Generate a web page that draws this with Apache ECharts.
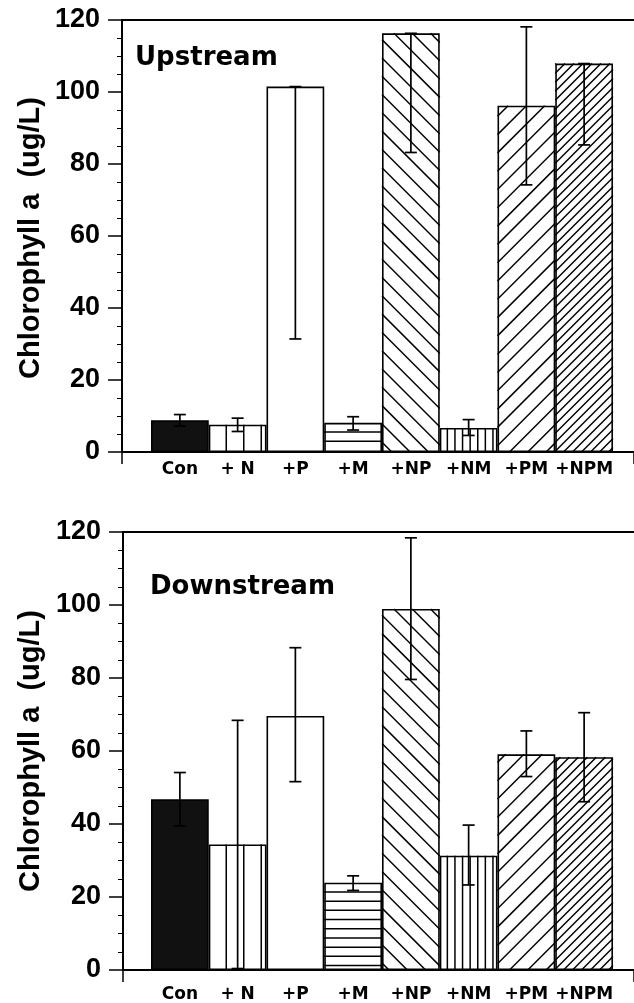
<!DOCTYPE html>
<html><head><meta charset="utf-8">
<script src="https://cdn.jsdelivr.net/npm/echarts@6/dist/echarts.min.js"></script>
<style>html,body{margin:0;padding:0;background:#fff}#c{width:634px;height:1003px}</style>
</head><body><div id="c"></div>
<script>
// ---------- data ----------
const categories = ['Con', '+ N', '+P', '+M', '+NP', '+NM', '+PM', '+NPM'];
const upstreamMean     = [8.8, 7.6, 101.5, 8.1, 116.3, 6.7, 96.2, 107.9];
const upstreamErrLow   = [7.2, 5.7, 31.4, 6.1, 83.2, 4.6, 74.2, 85.3];
const upstreamErrHigh  = [10.4, 9.4, 101.5, 9.8, 116.3, 9.0, 118.1, 107.9];
const downstreamMean    = [46.8, 34.4, 69.6, 23.9, 98.9, 31.3, 59.1, 58.3];
const downstreamErrLow  = [39.5, 0.4, 51.6, 21.8, 79.6, 23.3, 53.0, 46.1];
const downstreamErrHigh = [54.1, 68.4, 88.3, 25.8, 118.4, 39.7, 65.5, 70.5];
const yMin = 0, yMax = 120, yInterval = 20;
const panelTitles = ['Upstream', 'Downstream'];
const yAxisTitle = 'Chlorophyll a  (ug/L)';

// ---------- styles (not data) ----------
const patterns = [
  { fill: '#111', kind: 'none' },
  { fill: '#fff', kind: 'vertical', gap: 17.5 },
  { fill: '#fff', kind: 'none' },
  { fill: '#fff', kind: 'horizontal', gap: 9.2 },
  { fill: '#fff', kind: 'back', gap: 18.3 },
  { fill: '#fff', kind: 'vertical', gap: 7.6 },
  { fill: '#fff', kind: 'fwd', gap: 18.3 },
  { fill: '#fff', kind: 'fwd', gap: 9 }
];
const panels = [
  { frame: { left: 122, top: 20, width: 512, height: 432 }, bars: { left: 151, top: 20, width: 462, height: 432 }, labelMargin: 9, titleX: 135, titleY: 58, nameY: 238 },
  { frame: { left: 123, top: 532, width: 511, height: 438 }, bars: { left: 151, top: 532, width: 462, height: 438 }, labelMargin: 16, titleX: 150, titleY: 587, nameY: 751 }
];
const tickFont = 'Liberation Sans';
const catFont = 'DejaVu Sans';

function hatchItem(params, api) {
  const i = api.value(0);
  const v = api.value(1);
  const top = api.coord([i, v]);
  const base = api.coord([i, 0]);
  const w = api.size([1, 0])[0];
  const x0 = top[0] - w / 2, x1 = top[0] + w / 2, y0 = top[1], y1 = base[1];
  const p = patterns[i];
  const lines = [];
  const st = { stroke: '#000', lineWidth: 1.5 };
  if (p.kind === 'vertical') {
    for (let x = x0 + p.gap; x < x1 - 2; x += p.gap) lines.push([x, y0, x, y1]);
  } else if (p.kind === 'horizontal') {
    for (let y = y0 + p.gap; y < y1 - 2; y += p.gap) lines.push([x0, y, x1, y]);
  } else if (p.kind === 'fwd') {
    for (let c = x1 + y1 - p.gap * 0.5; c > x0 + y0; c -= p.gap) {
      const xa = Math.max(x0, c - y1), xb = Math.min(x1, c - y0);
      if (xb > xa) lines.push([xa, c - xa, xb, c - xb]);
    }
  } else if (p.kind === 'back') {
    for (let c = y0 - x1 + p.gap * 0.5; c < y1 - x0; c += p.gap) {
      const xa = Math.max(x0, y0 - c), xb = Math.min(x1, y1 - c);
      if (xb > xa) lines.push([xa, xa + c, xb, xb + c]);
    }
  }
  return {
    type: 'group',
    children: lines.map(l => ({ type: 'line', shape: { x1: l[0], y1: l[1], x2: l[2], y2: l[3] }, style: st }))
  };
}

function errItem(params, api) {
  const i = api.value(0);
  const lo = api.coord([i, api.value(1)]);
  const hi = api.coord([i, api.value(2)]);
  const cw = 6;
  const st = { stroke: '#000', lineWidth: 1.7 };
  return {
    type: 'group',
    children: [
      { type: 'line', shape: { x1: lo[0], y1: lo[1], x2: hi[0], y2: hi[1] }, style: st },
      { type: 'line', shape: { x1: hi[0] - cw, y1: hi[1], x2: hi[0] + cw, y2: hi[1] }, style: st },
      { type: 'line', shape: { x1: lo[0] - cw, y1: lo[1], x2: lo[0] + cw, y2: lo[1] }, style: st }
    ]
  };
}

const means = [upstreamMean, downstreamMean];
const lows = [upstreamErrLow, downstreamErrLow];
const highs = [upstreamErrHigh, downstreamErrHigh];

const grid = [], xAxis = [], yAxis = [], series = [], graphic = [];
panels.forEach((pn, k) => {
  const gf = grid.length; grid.push(pn.frame);
  const gb = grid.length; grid.push(pn.bars);
  const axLine = { show: true, lineStyle: { color: '#000', width: 2 } };
  xAxis.push({ gridIndex: gf, type: 'value', min: 0, max: 1, interval: 1, axisLine: axLine,
    axisTick: { show: true, length: 12, lineStyle: { color: '#000', width: 1.5 } }, axisLabel: { show: false }, splitLine: { show: false } });
  xAxis.push({ gridIndex: gf, type: 'value', position: 'top', min: 0, max: 1, axisLine: axLine,
    axisTick: { show: false }, axisLabel: { show: false }, splitLine: { show: false } });
  const xb = xAxis.length;
  xAxis.push({ gridIndex: gb, type: 'category', data: categories, axisLine: { show: false }, axisTick: { show: false },
    axisLabel: { interval: 0, margin: pn.labelMargin, color: '#000', fontFamily: catFont, fontWeight: 'bold', fontSize: 17 } });
  yAxis.push({ gridIndex: gf, type: 'value', min: yMin, max: yMax, interval: yInterval, axisLine: axLine,
    axisTick: { show: true, inside: false, length: 14, lineStyle: { color: '#000', width: 1.5 } },
    minorTick: { show: true, splitNumber: 4, length: 5, lineStyle: { color: '#000', width: 1 } },
    axisLabel: { margin: 22, color: '#000', fontFamily: tickFont, fontWeight: 'bold', fontSize: 27 },
    splitLine: { show: false } });
  const yb = yAxis.length;
  yAxis.push({ gridIndex: gb, type: 'value', min: yMin, max: yMax, show: false });

  series.push({
    type: 'bar', xAxisIndex: xb, yAxisIndex: yb, barCategoryGap: '0%', z: 2,
    data: means[k].map((v, i) => ({ value: v, itemStyle: { color: patterns[i].fill, borderColor: '#000', borderWidth: 1.6 } })),
    silent: true, animation: false
  });
  series.push({
    type: 'custom', xAxisIndex: xb, yAxisIndex: yb, z: 3, renderItem: hatchItem,
    data: means[k].map((v, i) => [i, v]), encode: { x: 0, y: 1 }, silent: true, animation: false
  });
  series.push({
    type: 'custom', xAxisIndex: xb, yAxisIndex: yb, z: 4, renderItem: errItem,
    data: means[k].map((v, i) => [i, lows[k][i], highs[k][i]]), encode: { x: 0, y: [1, 2] }, silent: true, animation: false
  });

  graphic.push({ type: 'text', x: pn.titleX, y: pn.titleY, z: 10,
    style: { text: panelTitles[k], fill: '#000', font: 'bold 26px "DejaVu Sans"', align: 'left', verticalAlign: 'middle', textAlign: 'left', textVerticalAlign: 'middle' } });
  graphic.push({ type: 'text', x: 31, y: pn.nameY, rotation: Math.PI / 2, z: 10,
    style: { text: yAxisTitle, fill: '#000', font: 'bold 29px "Liberation Sans"', align: 'center', verticalAlign: 'middle', textAlign: 'center', textVerticalAlign: 'middle' } });
});

const chart = echarts.init(document.getElementById('c'), null, { renderer: 'canvas' });
chart.setOption({ backgroundColor: '#fff', animation: false, grid, xAxis, yAxis, series, graphic });
</script>
</body></html>
